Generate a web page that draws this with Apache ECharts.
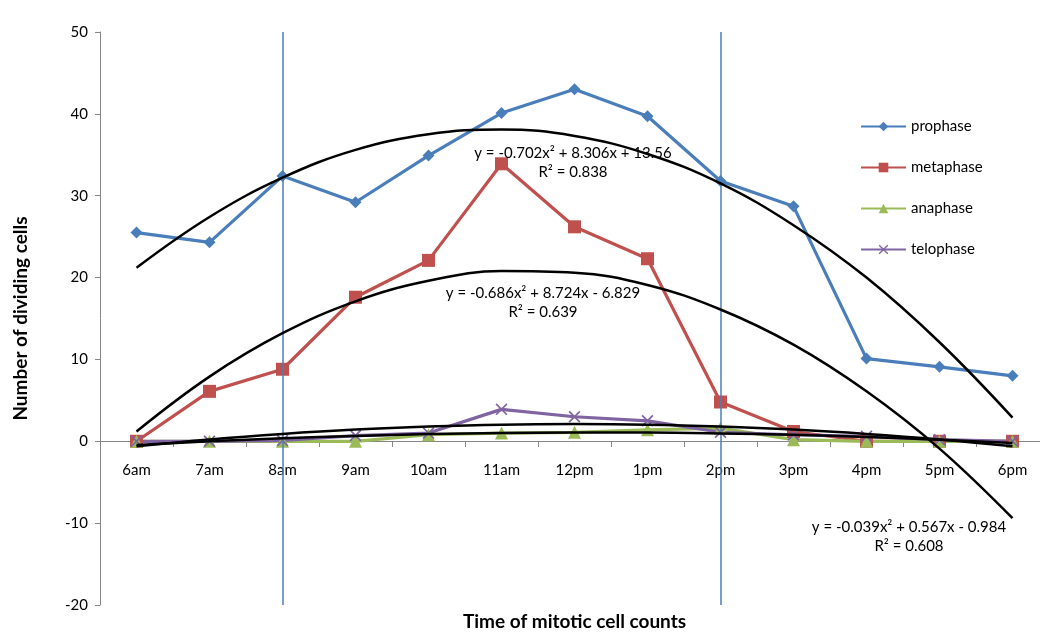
<!DOCTYPE html>
<html>
<head>
<meta charset="utf-8">
<script src="https://cdn.jsdelivr.net/npm/echarts@6/dist/echarts.min.js"></script>
<style>
  html, body { margin: 0; padding: 0; background: #fff; }
  #main { width: 1040px; height: 632px; }
</style>
</head>
<body>
<div id="main"></div>
<script>
var hours = ['6am', '7am', '8am', '9am', '10am', '11am', '12pm', '1pm', '2pm', '3pm', '4pm', '5pm', '6pm'];

var prophase  = [25.5, 24.3, 32.4, 29.2, 34.9, 40.1, 43.0, 39.7, 31.8, 28.7, 10.1, 9.1, 8.0];
var metaphase = [0, 6.1, 8.8, 17.6, 22.1, 33.9, 26.2, 22.3, 4.8, 1.2, 0, 0, 0];
var anaphase  = [0, 0, 0, 0, 0.8, 1.0, 1.1, 1.4, 1.6, 0.2, 0, 0, 0];
var telophase = [0, 0, 0.1, 0.7, 1.0, 3.9, 3.0, 2.5, 1.1, 0.8, 0.6, 0.2, 0];

// polynomial trendlines
var prophaseTrend  = [21.2, 27.4, 32.2, 35.6, 37.5, 38.1, 37.3, 35.1, 31.5, 26.4, 20.0, 12.1, 2.9];
var metaphaseTrend = [1.2, 7.9, 13.2, 17.1, 19.6, 20.8, 20.6, 19.1, 16.1, 11.8, 6.1, -0.9, -9.4];
var anaphaseTrend  = [-0.46, 0.0, 0.37, 0.66, 0.88, 1.01, 1.07, 1.06, 0.96, 0.79, 0.53, 0.2, -0.2];
var telophaseTrend = [-0.6, 0.23, 0.9, 1.43, 1.8, 2.03, 2.1, 2.03, 1.8, 1.43, 0.9, 0.23, -0.6];

var guideHours = ['8am', '2pm'];

var equations = [
  { text: 'y = -0.702x\u00b2 + 8.306x + 13.56\nR\u00b2 = 0.838', x: 573, y: 144 },
  { text: 'y = -0.686x\u00b2 + 8.724x - 6.829\nR\u00b2 = 0.639', x: 543, y: 284 },
  { text: 'y = -0.039x\u00b2 + 0.567x - 0.984\nR\u00b2 = 0.608', x: 909, y: 518 }
];

var FONT = 'Lato';
var axisGray = '#868686';

function dataSeries(name, data, color, symbol, size) {
  return {
    name: name,
    type: 'line',
    data: data,
    symbol: symbol,
    symbolSize: size,
    showAllSymbol: true,
    lineStyle: { color: color, width: 3.2 },
    itemStyle: { color: color },
    z: 3
  };
}

function trendSeries(data) {
  return {
    type: 'line',
    data: data,
    smooth: 0.4,
    symbol: 'none',
    silent: true,
    lineStyle: { color: '#000', width: 2.5 },
    z: 5
  };
}

var xMark = 'path://M0,1L1,0L5,4L9,0L10,1L6,5L10,9L9,10L5,6L1,10L0,9L4,5Z';

var series = [
  dataSeries('prophase', prophase, '#4a7ebb', 'diamond', 12),
  dataSeries('metaphase', metaphase, '#c0504d', 'rect', 13),
  dataSeries('anaphase', anaphase, '#9bbb59', 'triangle', 13),
  dataSeries('telophase', telophase, '#8064a2', xMark, 12),
  trendSeries(prophaseTrend),
  trendSeries(metaphaseTrend),
  trendSeries(anaphaseTrend),
  trendSeries(telophaseTrend),
  {
    type: 'line',
    data: [],
    silent: true,
    z: 6,
    markLine: {
      silent: true,
      symbol: 'none',
      label: { show: false },
      lineStyle: { color: '#4a7ebb', width: 1.5, type: 'solid' },
      data: guideHours.map(function (h) {
        return [{ coord: [h, 50] }, { coord: [h, -20] }];
      })
    }
  }
];

var chart = echarts.init(document.getElementById('main'));
chart.setOption({
  animation: false,
  backgroundColor: '#fff',
  textStyle: { fontFamily: FONT },
  grid: { left: 100, top: 32, width: 949, height: 573, containLabel: false, outerBoundsMode: 'none' },
  legend: {
    data: ['prophase', 'metaphase', 'anaphase', 'telophase'],
    orient: 'vertical',
    left: 855,
    top: 114,
    itemWidth: 45,
    itemHeight: 12,
    itemGap: 26,
    textStyle: { fontFamily: FONT, fontSize: 15, color: '#000' }
  },
  xAxis: {
    type: 'category',
    data: hours,
    boundaryGap: true,
    position: 'bottom',
    offset: -164,
    axisLine: { onZero: false, lineStyle: { color: axisGray, width: 1 } },
    axisTick: { show: true, length: 6, lineStyle: { color: axisGray } },
    axisLabel: { fontFamily: FONT, fontSize: 15, color: '#000', margin: 22 },
    name: 'Time of mitotic cell counts',
    nameLocation: 'middle',
    nameGap: 171,
    nameTextStyle: { fontFamily: FONT, fontSize: 19, fontWeight: 'bold', color: '#000' }
  },
  yAxis: {
    type: 'value',
    min: -20,
    max: 50,
    interval: 10,
    axisLine: { show: true, lineStyle: { color: axisGray, width: 1 } },
    axisTick: { show: true, length: 5, lineStyle: { color: axisGray } },
    splitLine: { show: false },
    axisLabel: { fontFamily: FONT, fontSize: 15, color: '#000', margin: 12 },
    name: 'Number of dividing cells',
    nameLocation: 'middle',
    nameGap: 70,
    nameTextStyle: { fontFamily: FONT, fontSize: 19, fontWeight: 'bold', color: '#000' }
  },
  graphic: equations.map(function (e) {
    return {
      type: 'text',
      x: e.x,
      y: e.y,
      z: 10,
      style: {
        text: e.text,
        fontFamily: FONT,
        fontSize: 15,
        lineHeight: 19,
        fill: '#000',
        align: 'center'
      }
    };
  }),
  series: series
});
</script>
</body>
</html>
